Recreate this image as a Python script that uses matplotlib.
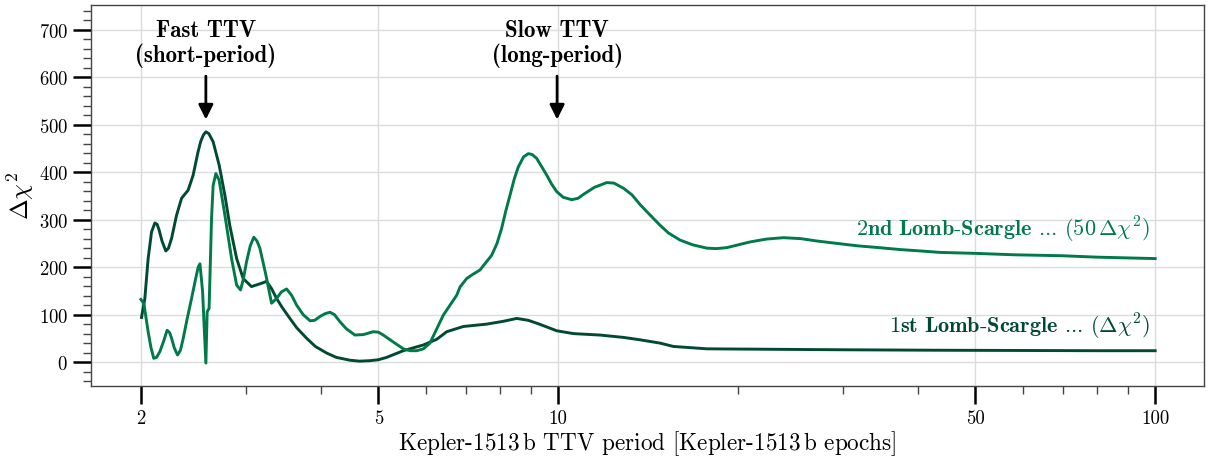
import matplotlib.pyplot as plt
from matplotlib.ticker import MultipleLocator, NullFormatter, LogLocator

plt.rcParams['font.family'] = 'serif'
plt.rcParams['font.serif'] = ['cmr10']
plt.rcParams['mathtext.fontset'] = 'cm'
plt.rcParams['axes.formatter.use_mathtext'] = True

DARK = '#004a30'
LIGHT = '#007a4a'

# 1st Lomb-Scargle periodogram (delta chi^2)
period_1 = [2.005, 2.031, 2.057, 2.084, 2.111, 2.13, 2.146, 2.17, 2.202, 2.225,
            2.252, 2.295, 2.340, 2.400, 2.446, 2.494, 2.52, 2.545, 2.570, 2.60,
            2.643, 2.705, 2.766, 2.818, 2.894, 2.968, 3.064, 3.186, 3.248, 3.31,
            3.376, 3.45, 3.554, 3.65, 3.792, 3.92, 4.096, 4.25, 4.480, 4.65,
            4.839, 5.0, 5.162, 5.503, 5.943, 6.260, 6.507, 6.937, 7.592, 8.10,
            8.524, 8.913, 9.30, 9.945, 10.61, 11.75, 12.87, 13.71, 14.82, 15.59,
            17.74, 20.0, 22.95, 29.68, 43.64, 60.0, 80.0, 100]
dchi2_1 = [94, 134, 218, 274, 293, 290, 278, 255, 234, 240,
           261, 309, 345, 362, 393, 443, 465, 478, 485, 481,
           464, 415, 351, 288, 218, 176, 159, 166, 170, 155,
           134, 115, 92, 72, 50, 33, 19, 10, 4, 2,
           3, 5, 10, 24, 36, 48, 64, 75, 80, 86,
           92, 88, 80, 66, 60, 57, 52, 47, 40, 33,
           28, 27.5, 27, 26, 25, 24.5, 24, 24]

# 2nd Lomb-Scargle periodogram (50 x delta chi^2)
period_2 = [2.00, 2.023, 2.057, 2.08, 2.102, 2.125, 2.152, 2.185, 2.213, 2.235,
            2.252, 2.275, 2.304, 2.33, 2.355, 2.39, 2.432, 2.47, 2.495, 2.512,
            2.538, 2.551, 2.570, 2.583, 2.602, 2.627, 2.643, 2.671, 2.705, 2.766,
            2.838, 2.894, 2.938, 2.97, 3.006, 3.05, 3.092, 3.13, 3.165, 3.240,
            3.311, 3.376, 3.44, 3.509, 3.58, 3.647, 3.74, 3.841, 3.91, 3.991,
            4.07, 4.147, 4.22, 4.311, 4.42, 4.567, 4.72, 4.900, 5.0, 5.094,
            5.3, 5.503, 5.65, 5.795, 5.95, 6.099, 6.422, 6.763, 6.849, 7.027,
            7.2, 7.398, 7.738, 7.9, 8.043, 8.17, 8.304, 8.44, 8.575, 8.75,
            8.913, 9.05, 9.205, 9.4, 9.567, 9.75, 9.945, 10.2, 10.54, 10.8,
            11.02, 11.5, 12.06, 12.4, 12.87, 13.3, 13.71, 14.2, 14.82, 15.3,
            16.0, 16.8, 17.74, 18.4, 19.15, 20.96, 22.3, 23.84, 25.5, 27.13,
            29.3, 31.64, 34.5, 37.41, 40.5, 43.64, 49.96, 58.0, 69.7, 80.0,
            100]
dchi2_2 = [132, 124, 64, 30, 8, 10, 22, 45, 67, 62,
           50, 30, 15, 25, 50, 90, 134, 175, 200, 207,
           148, 85, -2, 106, 113, 303, 372, 397, 383, 309,
           218, 162, 152, 175, 211, 245, 263, 255, 240, 183,
           124, 134, 148, 154, 140, 120, 100, 87, 88, 96,
           102, 105, 100, 85, 70, 57, 58, 64, 63, 57,
           42, 28, 24, 24, 28, 40, 99, 141, 158, 176,
           185, 194, 225, 250, 282, 318, 351, 385, 411, 432,
           439, 437, 429, 410, 394, 375, 359, 347, 342, 345,
           353, 368, 378, 377, 366, 352, 332, 312, 288, 272,
           257, 247, 240, 239, 241, 253, 259, 262, 260, 255,
           250, 245, 241, 237, 234, 231, 229, 226, 224, 221,
           218]

major_x = [2, 5, 10, 50, 100]

fig = plt.figure(figsize=(12.13, 4.6), dpi=100)
ax = fig.add_axes([0.075, 0.159, 0.9177, 0.828])

ax.plot(period_1, dchi2_1, color=DARK, lw=2.1)
ax.plot(period_2, dchi2_2, color=LIGHT, lw=2.1)

ax.set_xscale('log')
ax.set_xlim(1.65, 120.8)
ax.set_ylim(-50, 752)
ax.set_xticks(major_x)
ax.set_xticklabels([str(v) for v in major_x])
ax.xaxis.set_minor_locator(LogLocator(base=10, subs=range(2, 10)))
ax.xaxis.set_minor_formatter(NullFormatter())
ax.yaxis.set_major_locator(MultipleLocator(100))
ax.yaxis.set_minor_locator(MultipleLocator(20))

ax.grid(True, which='major', color='#dcdcdc', lw=1)
ax.set_axisbelow(True)
ax.tick_params(which='major', length=13, width=1.8, labelsize=13.5, color='k')
ax.tick_params(which='minor', length=6, width=1, color='#444444')
for s in ax.spines.values():
    s.set_color('#444444')
    s.set_linewidth(1)

ax.set_xlabel(r'Kepler-1513$\,$b TTV period [Kepler-1513$\,$b epochs]', fontsize=16.7, labelpad=1)
ax.set_ylabel(r'$\Delta\chi^2$', fontsize=18, labelpad=2)

# arrows marking the two TTV regimes
for xp, label in [(2.57, 'Fast TTV\n(short-period)'), (9.96, 'Slow TTV\n(long-period)')]:
    ax.text(xp, 672, label, ha='center', va='center', fontsize=16.5,
            family='cmb10', linespacing=1.1)
    ax.annotate('', xy=(xp, 505), xytext=(xp, 608),
                arrowprops=dict(arrowstyle='-|>', color='k', lw=2, mutation_scale=22))

ax.text(98.1, 281, r'$\mathbf{2nd\ Lomb}$-$\mathbf{Scargle}$ ... $(50\,\Delta\chi^2)$',
        ha='right', va='center', fontsize=16, color=LIGHT)
ax.text(98.1, 76, r'$\mathbf{1st\ Lomb}$-$\mathbf{Scargle}$ ... $(\Delta\chi^2)$',
        ha='right', va='center', fontsize=16, color=DARK)

fig.savefig('out.png', dpi=100)
